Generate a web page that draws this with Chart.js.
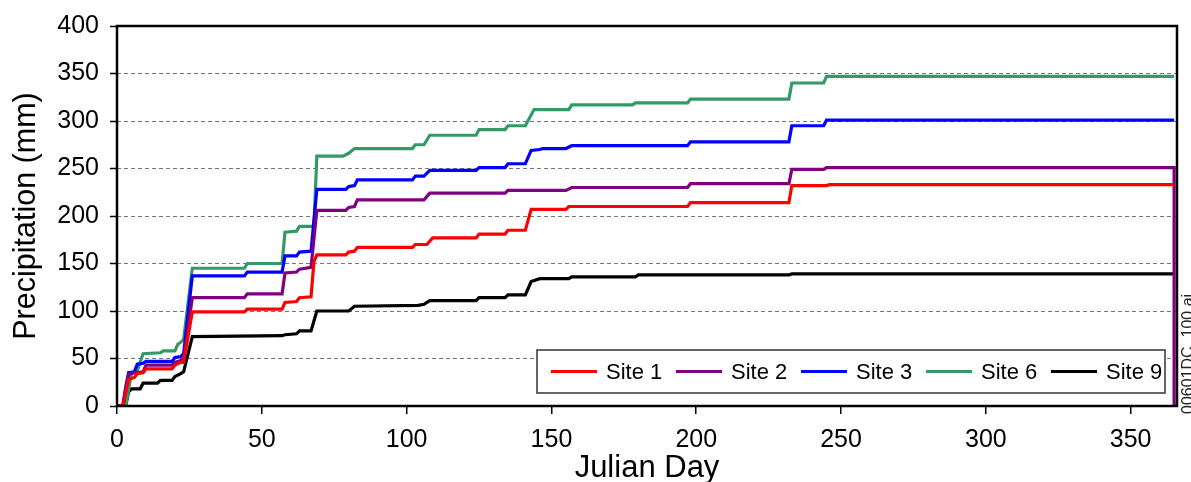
<!DOCTYPE html>
<html>
<head>
<meta charset="utf-8">
<style>
  html, body { margin: 0; padding: 0; background: #fff; }
  #chart { display: block; }
</style>
<script src="https://cdn.jsdelivr.net/npm/chart.js@4.4.1/dist/chart.umd.min.js"></script>
</head>
<body>
<canvas id="chart" width="1191" height="482"></canvas>
<script>
// cumulative precipitation (day, mm)
const site1Days = [0, 2, 4, 6, 7, 9, 10, 19, 20, 22, 23, 26, 44, 45, 57, 58, 62, 63, 67, 68, 69, 79, 80, 82, 83, 102, 103, 107, 109, 124, 125, 134, 135, 141, 143, 155, 156, 197, 198, 232, 233, 245, 246, 365];
const site1Precip = [0, 0, 28, 30, 34, 35, 39, 39, 43, 46, 46, 99, 99, 102, 102, 109, 110, 114, 115, 152, 159, 159, 162, 163, 167, 167, 170, 170, 177, 177, 181, 181, 185, 185, 207, 207, 210, 210, 214, 214, 232, 232, 233, 233];

const site2Days = [0, 2, 4, 6, 9, 10, 19, 20, 22, 23, 26, 44, 45, 57, 58, 62, 63, 67, 69, 79, 80, 82, 83, 106, 108, 134, 135, 155, 157, 197, 198, 232, 233, 244, 245, 365, 365];
const site2Precip = [0, 0, 33, 35, 36, 43, 43, 46, 48, 50, 114, 114, 118, 118, 140, 141, 144, 146, 206, 206, 209, 210, 217, 217, 224, 224, 227, 227, 230, 230, 234, 234, 249, 249, 251, 251, 0];

const site3Days = [0, 2, 3, 4, 6, 7, 9, 10, 19, 20, 22, 23, 26, 44, 45, 57, 58, 62, 63, 67, 69, 79, 80, 82, 83, 102, 103, 106, 108, 124, 125, 134, 135, 141, 143, 146, 147, 155, 157, 197, 198, 232, 233, 244, 245, 365];
const site3Precip = [0, 0, 20, 35, 36, 44, 45, 47, 47, 51, 52, 55, 137, 137, 141, 141, 158, 158, 162, 163, 228, 228, 231, 232, 238, 238, 242, 242, 248, 248, 251, 251, 255, 255, 269, 270, 271, 271, 274, 274, 278, 278, 295, 295, 301, 301];

const site6Days = [0, 3, 5, 7, 8, 9, 15, 16, 20, 21, 22, 23, 26, 44, 45, 57, 58, 62, 63, 68, 69, 78, 80, 82, 102, 103, 106, 108, 124, 125, 134, 135, 141, 144, 156, 157, 178, 179, 197, 198, 232, 233, 244, 245, 365];
const site6Precip = [0, 0, 35, 37, 46, 55, 56, 58, 58, 65, 67, 70, 145, 145, 150, 150, 183, 184, 189, 189, 263, 263, 266, 271, 271, 275, 275, 285, 285, 291, 291, 295, 295, 312, 312, 317, 317, 319, 319, 323, 323, 340, 340, 347, 347];

const site9Days = [0, 3, 4, 5, 8, 9, 14, 15, 19, 20, 22, 23, 26, 57, 58, 62, 63, 67, 69, 80, 82, 104, 106, 108, 124, 125, 134, 135, 141, 143, 146, 156, 157, 179, 180, 232, 233, 365];
const site9Precip = [0, 0, 15, 18, 18, 24, 24, 27, 27, 31, 34, 36, 73, 74, 75, 76, 79, 79, 100, 100, 105, 106, 107, 111, 111, 114, 114, 117, 117, 131, 134, 134, 136, 136, 138, 138, 139, 139];

const siteLabels = ["Site 1", "Site 2", "Site 3", "Site 6", "Site 9"];
const siteColors = ["#ff0000", "#800080", "#0000ff", "#339966", "#000000"];
const siteDays = [site1Days, site2Days, site3Days, site6Days, site9Days];
const sitePrecip = [site1Precip, site2Precip, site3Precip, site6Precip, site9Precip];

const xTicks = [0, 50, 100, 150, 200, 250, 300, 350];
const yTicks = [0, 50, 100, 150, 200, 250, 300, 350, 400];

const FONT = "'Liberation Sans', Arial, sans-serif";

// plot frame, legend box and the file tag on the right edge
const framePlugin = {
  id: "frame",
  afterDraw(chart) {
    const { ctx, chartArea: a } = chart;
    ctx.save();
    ctx.strokeStyle = "#000";
    ctx.lineWidth = 2.5;
    ctx.strokeRect(a.left, a.top, a.right - a.left, a.bottom - a.top);

    // legend
    const bx = 537, by = 350, bw = 628, bh = 43;
    ctx.fillStyle = "#fff";
    ctx.fillRect(bx, by, bw, bh);
    ctx.strokeStyle = "#333";
    ctx.lineWidth = 1.5;
    ctx.strokeRect(bx, by, bw, bh);
    ctx.font = "22px " + FONT;
    ctx.textBaseline = "middle";
    ctx.textAlign = "left";
    const cy = by + bh / 2;
    chart.data.datasets.forEach((ds, i) => {
      const x0 = 551 + i * 125;
      ctx.strokeStyle = ds.borderColor;
      ctx.lineWidth = 3;
      ctx.beginPath();
      ctx.moveTo(x0, cy);
      ctx.lineTo(x0 + 46, cy);
      ctx.stroke();
      ctx.fillStyle = "#000";
      ctx.fillText(ds.label, x0 + 55, cy + 1);
    });

    // rotated file tag
    ctx.translate(1197, 414);
    ctx.rotate(-Math.PI / 2);
    ctx.font = "16px " + FONT;
    ctx.textBaseline = "bottom";
    ctx.fillStyle = "#222";
    ctx.fillText("00601DC_100.ai", 0, 0);
    ctx.restore();
  },
};

new Chart(document.getElementById("chart"), {
  type: "line",
  data: {
    datasets: siteLabels.map((label, i) => ({
      label,
      data: siteDays[i].map((d, j) => ({ x: d, y: sitePrecip[i][j] })),
      borderColor: siteColors[i],
      backgroundColor: siteColors[i],
      borderWidth: 3.2,
      pointRadius: 0,
      tension: 0,
      fill: false,
    })),
  },
  options: {
    responsive: false,
    animation: false,
    devicePixelRatio: 1,
    layout: { padding: { top: 24, right: 14, left: 0, bottom: 0 } },
    plugins: {
      legend: { display: false },
      tooltip: { enabled: false },
    },
    scales: {
      x: {
        type: "linear",
        min: 0,
        max: 366,
        afterFit(scale) { scale.height = 76; },
        afterBuildTicks(scale) { scale.ticks = xTicks.map((v) => ({ value: v })); },
        grid: { drawOnChartArea: false, drawTicks: true, tickLength: 8, color: "#000", lineWidth: 1.5 },
        border: { display: false },
        ticks: { color: "#000", font: { family: FONT, size: 25 }, padding: 11, maxRotation: 0, autoSkip: false },
        title: {
          display: true,
          text: "Julian Day",
          color: "#000",
          font: { family: FONT, size: 31, lineHeight: 0.9 },
          padding: { top: 0, bottom: 0 },
        },
      },
      y: {
        min: 0,
        max: 400,
        afterFit(scale) { scale.width = 117; },
        afterBuildTicks(scale) { scale.ticks = yTicks.map((v) => ({ value: v })); },
        grid: {
          drawTicks: true,
          tickLength: 7,
          tickColor: "#000",
          tickWidth: 1.5,
          lineWidth: 1,
          color: (c) => (c.tick && (c.tick.value === 0 || c.tick.value === 400) ? "rgba(0,0,0,0)" : "#777"),
        },
        border: { display: false, dash: [4, 3] },
        ticks: { color: "#000", font: { family: FONT, size: 25 }, padding: 11, autoSkip: false },
        title: {
          display: true,
          text: "Precipitation (mm)",
          color: "#000",
          font: { family: FONT, size: 30.5 },
          padding: { top: 8, bottom: 0 },
        },
      },
    },
  },
  plugins: [framePlugin],
});
</script>
</body>
</html>
